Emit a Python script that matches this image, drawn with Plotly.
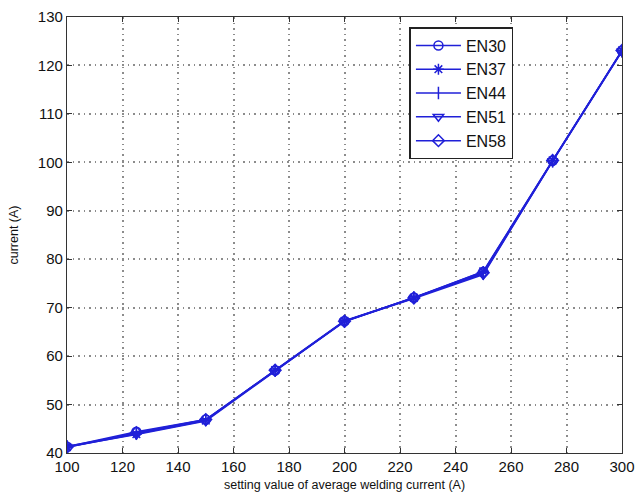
import plotly.graph_objects as go

x_vals = [100, 125, 150, 175, 200, 225, 250, 275, 300]
series_names = ["EN30", "EN37", "EN44", "EN51", "EN58"]
en30 = [41.3, 44.4, 46.9, 57.0, 67.2, 72.1, 77.4, 100.3, 123.0]
en37 = [41.2, 43.9, 46.7, 57.1, 67.3, 72.0, 77.5, 100.4, 123.1]
en44 = [41.4, 44.0, 46.8, 57.0, 67.1, 72.1, 77.0, 100.2, 122.9]
en51 = [41.3, 43.8, 46.6, 56.9, 67.2, 71.9, 76.8, 100.3, 123.0]
en58 = [41.2, 44.2, 46.9, 57.1, 67.2, 72.0, 77.2, 100.4, 123.1]
all_series = [en30, en37, en44, en51, en58]
symbols = ["circle-open", "asterisk-open", "line-ns-open", "triangle-down-open", "diamond-open"]
x_ticks = list(range(100, 301, 20))
y_ticks = list(range(40, 131, 10))

color = "#2020d8"
fig = go.Figure()
for name, ys, sym in zip(series_names, all_series, symbols):
    fig.add_trace(go.Scatter(
        x=x_vals, y=ys, name=name, mode="lines+markers",
        line=dict(color=color, width=1.5),
        marker=dict(symbol=sym, size=9, color=color, line=dict(color=color, width=1.5)),
    ))

axis_common = dict(
    showline=True, linecolor="#333333", linewidth=1.2, mirror="ticks",
    ticks="inside", ticklen=5, tickcolor="#333333",
    showgrid=True, gridcolor="#8c8c8c", griddash="1.5px,4px", gridwidth=1.5,
    zeroline=False, automargin=False,
    tickfont=dict(family="Liberation Sans, Arial", size=15, color="#111111"),
)
fig.update_xaxes(range=[100, 300], tickvals=x_ticks,
                 title=dict(text="setting value of average welding current (A)",
                            font=dict(family="Liberation Sans, Arial", size=12.5, color="#111111"), standoff=6),
                 **axis_common)
fig.update_yaxes(range=[40, 130], tickvals=y_ticks,
                 title=dict(text="current (A)",
                            font=dict(family="Liberation Sans, Arial", size=12.5, color="#111111"), standoff=16),
                 **axis_common)
fig.update_layout(
    width=635, height=500,
    margin=dict(l=67, r=13, t=17, b=47),
    plot_bgcolor="white", paper_bgcolor="white",
    showlegend=True,
    legend=dict(x=0.617, y=0.977, xanchor="left", yanchor="top",
                bgcolor="white", bordercolor="#222222", borderwidth=1.5,
                font=dict(family="Liberation Sans, Arial", size=16, color="#111111"),
                itemwidth=45),
)
fig.write_html("out.html")
